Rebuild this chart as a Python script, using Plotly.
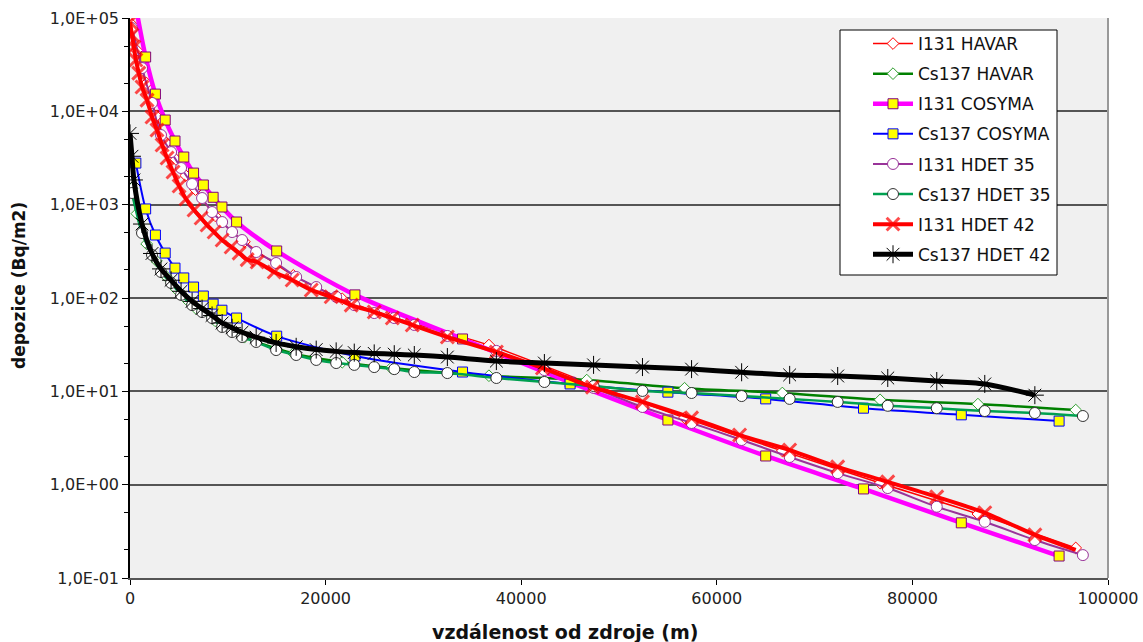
import plotly.graph_objects as go

# ---------------- data ----------------
# HAVAR (distance m, deposition Bq/m2)
havar_x = [200, 700, 1700, 2700, 3700, 4700, 5700, 6700, 8700, 11700, 16700, 21700,
           26700, 36700, 46700, 56700, 66700, 76700, 86700, 96700]
i131_havar = [85000, 45000, 20000, 8900, 4600, 3050, 2050, 1450, 760, 400, 175, 98,
              63, 31.3, 12.5, 5.2, 2.3, 1.04, 0.485, 0.21]
cs137_havar = [1500, 800, 380, 250, 170, 125, 98, 78, 57, 38, 25.5, 20.5,
               17.8, 14.7, 13.2, 10.8, 9.6, 8.1, 7.3, 6.3]

# COSYMA
cosyma_x = [600, 1600, 2600, 3600, 4600, 5500, 6500, 7500, 8500, 9400, 10900, 15000,
            23000, 34000, 45000, 55000, 65000, 75000, 85000, 95000]
i131_cosyma = [130000, 38200, 15300, 8070, 4810, 3240, 2180, 1625, 1200, 944, 652, 319,
               108, 36.4, 12.5, 4.93, 2.03, 0.90, 0.39, 0.172]
cs137_cosyma = [2790, 900, 473, 303, 209, 164, 131, 105, 86, 74, 61, 39,
                23.9, 16.1, 12.0, 9.8, 8.3, 6.6, 5.6, 4.8]

# HDET 35
hdet35_x = [200, 1230, 2250, 3170, 4200, 5220, 6350, 7370, 8390, 9420, 10440, 11460,
            12900, 14940, 16990, 19040, 21080, 22930, 24970, 27020, 29070, 32450,
            37460, 42370, 47400, 52400, 57420, 62540, 67450, 72360, 77480, 82490,
            87400, 92520, 97430]
i131_hdet35 = [78000, 29100, 12300, 5570, 3660, 2470, 1665, 1178, 834, 651, 509, 418,
               311, 237, 168, 131, 103, 84, 69, 61, 51.4, 39.2,
               27.1, 16.9, 10.9, 6.8, 4.58, 3.01, 1.98, 1.33, 0.92, 0.58,
               0.40, 0.255, 0.176]
cs137_hdet35 = [1334, 497, 289, 190, 145, 108, 84, 70.8, 61, 48.9, 43.2, 38.2,
                33.8, 27.7, 24.5, 21.7, 20.1, 19.2, 18.2, 17.3, 16.1, 15.7,
                13.9, 12.6, 11.4, 10.1, 9.6, 8.9, 8.3, 7.7, 7.0, 6.6,
                6.15, 5.86, 5.44]

# HDET 42
i131_hdet42_x = [0, 200, 400, 600, 900, 1230, 1740, 2250, 2760, 3280, 3790, 4400, 5020,
                 5730, 6550, 7270, 7880, 8600, 9420, 10340, 11160, 11980, 13000, 14740,
                 16580, 18530, 20570, 22620, 24970, 26820, 28860, 32450, 37460, 42170,
                 47290, 52400, 57420, 62330, 67450, 72360, 77480, 82490, 87400, 92520,
                 96700]
i131_hdet42 = [90600, 65800, 48900, 35500, 25700, 18200, 13200, 8690, 6310, 4360, 3160,
               2240, 1585, 1150, 877, 719, 605, 509, 418, 352, 303, 258, 243, 190,
               156, 122, 103, 84, 70.8, 61, 51.4, 38.2, 26.4, 17.8,
               11.1, 7.7, 5.2, 3.4, 2.35, 1.55, 1.07, 0.74, 0.50, 0.29,
               0.20]
cs137_hdet42_x = [0, 200, 400, 1230, 2250, 3170, 4200, 5220, 6350, 7370, 8390, 9420,
                  10440, 11460, 12900, 14940, 16990, 19040, 21080, 22930, 24970, 27020,
                  29070, 32450, 37460, 42370, 47400, 52400, 57420, 62540, 67450, 72360,
                  77480, 82490, 87400, 92520]
cs137_hdet42 = [5800, 3300, 1840, 620, 300, 205, 155, 118, 92, 77, 65, 54,
                48, 43, 38, 33, 30, 28, 26.8, 26, 25.5, 25,
                24.5, 23.3, 21.1, 20.1, 19.2, 18.2, 17.3, 16.0, 15.0, 14.6,
                13.9, 12.9, 12.0, 9.1]

y_tickvals = [0.1, 1, 10, 100, 1000, 10000, 100000]
y_ticktext = ["1,0E-01", "1,0E+00", "1,0E+01", "1,0E+02", "1,0E+03", "1,0E+04", "1,0E+05"]
x_tickvals = [0, 20000, 40000, 60000, 80000, 100000]
x_ticktext = ["0", "20000", "40000", "60000", "80000", "100000"]

x_title = "vzdálenost od zdroje (m)"
y_title = "depozice (Bq/m2)"

# ---------------- figure ----------------
FONT = "DejaVu Sans, Liberation Sans, Arial, sans-serif"
W, H = 1143, 642
L, R, T, B = 130, 35, 18, 64
PW, PH = W - L - R, H - T - B


def px_to_paper_x(px):
    return (px - L) / PW


def px_to_paper_y(py):
    return (H - B - py) / PH


fig = go.Figure()


def add(name, x, y, lcolor, lwidth, symbol, msize, mfill, mline, mlw, msizes=None):
    fig.add_trace(go.Scatter(
        x=x, y=y, name=name, mode="lines+markers", legendgroup=name,
        line=dict(color=lcolor, width=lwidth, shape="spline", smoothing=0.8),
        marker=dict(symbol=symbol, size=msizes if msizes is not None else msize,
                    color=mfill, line=dict(color=mline, width=mlw)),
    ))


add("I131 HAVAR", havar_x, i131_havar, "#FF0000", 1.5, "diamond", 9, "white", "#FF0000", 1)
add("Cs137 HAVAR", havar_x, cs137_havar, "#008000", 2.5, "diamond", 9, "white", "#2E9E2E", 1)
add("I131 COSYMA", cosyma_x, i131_cosyma, "#FF00FF", 4.5, "square", 10, "#FFFF00", "#800080", 1)
add("Cs137 COSYMA", cosyma_x, cs137_cosyma, "#0000FF", 2, "square", 10, "#FFFF00", "#0000FF", 1)
add("I131 HDET 35", hdet35_x, i131_hdet35, "#993399", 2, "circle", 11, "white", "#993399", 1)
add("Cs137 HDET 35", hdet35_x, cs137_hdet35, "#00A050", 2.5, "circle", 11, "white", "#333333", 1)
i131_h42_sizes = [13] * (len(i131_hdet42_x) - 1) + [0]
add("I131 HDET 42", i131_hdet42_x, i131_hdet42, "#FF0000", 4, "x-thin", 13, "#FF0000", "#FF0000", 3,
    msizes=i131_h42_sizes)
add("Cs137 HDET 42", cs137_hdet42_x, cs137_hdet42, "#000000", 5, "asterisk-open", 15, "#000000", "#333333", 1)

fig.update_layout(
    width=W, height=H,
    margin=dict(l=L, r=R, t=T, b=B, autoexpand=False),
    paper_bgcolor="white", plot_bgcolor="#F0F0F0",
    font=dict(family=FONT, size=16, color="#222222"),
    showlegend=True,
    legend=dict(x=px_to_paper_x(868), y=px_to_paper_y(26), xanchor="left", yanchor="top",
                bgcolor="rgba(0,0,0,0)", borderwidth=0,
                font=dict(family=FONT, size=17, color="#111111"),
                tracegroupgap=5, itemwidth=40),
    xaxis=dict(range=[0, 100000], tickvals=x_tickvals, ticktext=x_ticktext, automargin=False,
               showgrid=False, zeroline=False, showline=True, linecolor="#555555", linewidth=2,
               ticks="outside", ticklen=5, tickcolor="black",
               tickfont=dict(family=FONT, size=16, color="#222222")),
    yaxis=dict(type="log", range=[-1, 5], tickvals=y_tickvals, ticktext=y_ticktext, automargin=False,
               showgrid=True, gridcolor="#555555", gridwidth=1.5,
               zeroline=False, showline=True, linecolor="black", linewidth=1.5,
               ticks="outside", ticklen=6, tickcolor="black",
               minor=dict(ticks="outside", ticklen=4, tickcolor="black", showgrid=False),
               tickfont=dict(family=FONT, size=16, color="#222222")),
    shapes=[
        dict(type="line", xref="paper", yref="paper", x0=1, x1=1, y0=0, y1=1,
             line=dict(color="#999999", width=2)),
        dict(type="rect", xref="paper", yref="paper",
             x0=px_to_paper_x(840), x1=px_to_paper_x(1057),
             y0=px_to_paper_y(275), y1=px_to_paper_y(30),
             fillcolor="white", line=dict(color="black", width=1), layer="above"),
    ],
    annotations=[
        dict(text="<b>" + x_title + "</b>", xref="paper", yref="paper",
             x=px_to_paper_x(565), y=px_to_paper_y(632), xanchor="center", yanchor="middle",
             showarrow=False, font=dict(family=FONT, size=19, color="#111111")),
        dict(text="<b>" + y_title + "</b>", xref="paper", yref="paper", textangle=-90,
             x=px_to_paper_x(19), y=px_to_paper_y(286), xanchor="center", yanchor="middle",
             showarrow=False, font=dict(family=FONT, size=17, color="#111111")),
    ],
)

fig.write_html("out.html")
